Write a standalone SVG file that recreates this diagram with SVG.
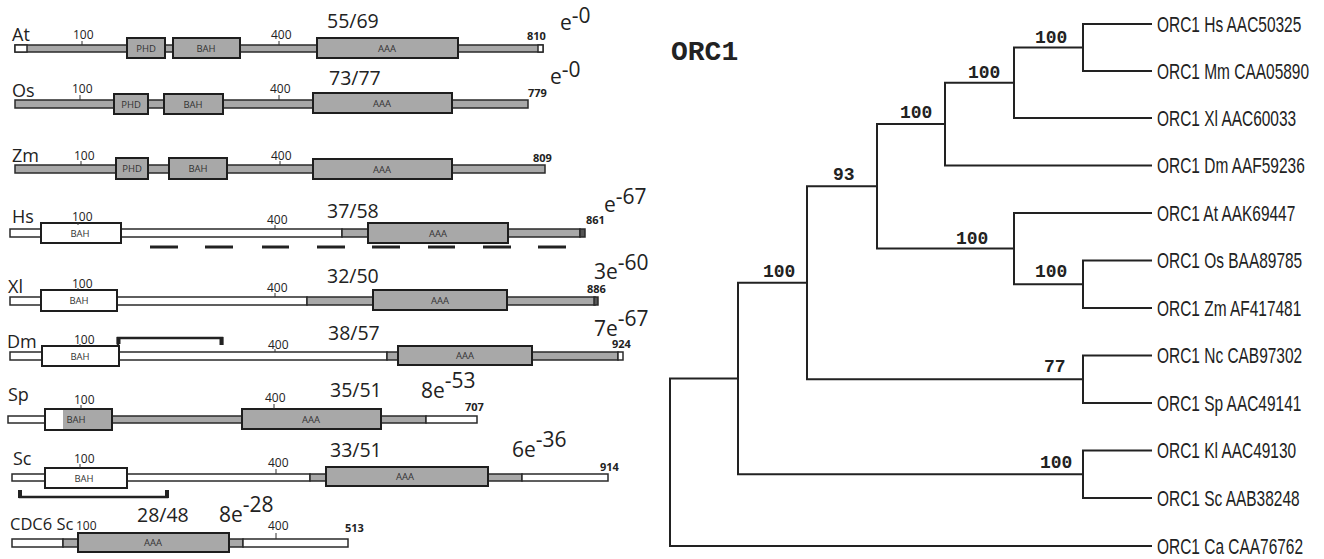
<svg xmlns="http://www.w3.org/2000/svg" width="1324" height="559" viewBox="0 0 1324 559">
<style>
.bg{fill:#fff}
.bw{fill:#fff;stroke:#2a2a2a;stroke-width:1.5}
.bgy{fill:#a8a8a8;stroke:#2a2a2a;stroke-width:1.5}
.bdk{fill:#555;stroke:#2a2a2a;stroke-width:1.5}
.box{fill:#a8a8a8;stroke:#1e1e1e;stroke-width:2}
.boxw{fill:#fff;stroke:#1e1e1e;stroke-width:2}
.tick{stroke:#333;stroke-width:1}
.sp{font-family:"Open Sans","Noto Sans",sans-serif;font-size:18px;fill:#222}
.num{font-family:"Open Sans","Noto Sans",sans-serif;font-size:12px;fill:#222}
.end{font-family:"Open Sans","Noto Sans",sans-serif;font-size:11px;font-weight:bold;fill:#222}
.dom{font-family:"Open Sans","Noto Sans",sans-serif;font-size:9.5px;fill:#333;text-anchor:middle}
.ratio{font-family:"Open Sans","Noto Sans",sans-serif;font-size:19.5px;fill:#222}
.ev{font-family:"Open Sans","Noto Sans",sans-serif;font-size:21px;fill:#222}
.dash{stroke:#222;stroke-width:3}
.brk{stroke:#222;stroke-width:2.5;fill:none}
.tree{stroke:#222;stroke-width:2;fill:none}
.bs{font-family:"Liberation Mono",monospace;font-weight:bold;font-size:18px;fill:#222}
.leaf{font-family:"Liberation Sans",Arial,sans-serif;font-size:22px;fill:#222}
.title{font-family:"Liberation Mono",monospace;font-weight:bold;font-size:28px;fill:#222}
</style>
<rect class="bg" x="0" y="0" width="1324" height="559"/>

<g id="row-At">
<rect class="bgy" x="15" y="45" width="528" height="7"/>
<rect class="bw" x="15" y="45" width="12" height="7"/>
<rect class="bw" x="538" y="45" width="5" height="7"/>
<rect class="box" x="127" y="38" width="38" height="20"/><text class="dom" x="146" y="52">PHD</text>
<rect class="box" x="173" y="38" width="67" height="20"/><text class="dom" x="206" y="52">BAH</text>
<rect class="box" x="317" y="38" width="141" height="20"/><text class="dom" x="387" y="52">AAA</text>
<line class="tick" x1="82" y1="41" x2="82" y2="45"/><line class="tick" x1="279" y1="41" x2="279" y2="45"/>
<text class="num" x="73" y="39">100</text><text class="num" x="271" y="39">400</text>
<text class="sp" x="12" y="41">At</text>
<text class="end" x="527" y="40">810</text>
<text class="ratio" x="327" y="28">55/69</text>
<text class="ev" x="560" y="30">e<tspan dy="-7">-0</tspan></text>
</g>

<g id="row-Os">
<rect class="bgy" x="15" y="100" width="513" height="8"/>
<rect class="box" x="114" y="94" width="34" height="20"/><text class="dom" x="131" y="108">PHD</text>
<rect class="box" x="164" y="94" width="59" height="20"/><text class="dom" x="193" y="108">BAH</text>
<rect class="box" x="313" y="93" width="139" height="20"/><text class="dom" x="382" y="107">AAA</text>
<line class="tick" x1="80" y1="95" x2="80" y2="100"/><line class="tick" x1="279" y1="95" x2="279" y2="100"/>
<text class="num" x="72" y="93">100</text><text class="num" x="270" y="93">400</text>
<text class="sp" x="12" y="97">Os</text>
<text class="end" x="528" y="97">779</text>
<text class="ratio" x="329" y="85">73/77</text>
<text class="ev" x="550" y="84">e<tspan dy="-7">-0</tspan></text>
</g>

<g id="row-Zm">
<rect class="bgy" x="15" y="165" width="530" height="8"/>
<rect class="box" x="116" y="158" width="32" height="21"/><text class="dom" x="132" y="172">PHD</text>
<rect class="box" x="169" y="158" width="58" height="21"/><text class="dom" x="198" y="172">BAH</text>
<rect class="box" x="313" y="159" width="139" height="20"/><text class="dom" x="382" y="173">AAA</text>
<line class="tick" x1="81" y1="161" x2="81" y2="165"/><line class="tick" x1="280" y1="161" x2="280" y2="165"/>
<text class="num" x="74" y="160">100</text><text class="num" x="271" y="160">400</text>
<text class="sp" x="12" y="162">Zm</text>
<text class="end" x="533" y="162">809</text>
</g>

<g id="row-Hs">
<rect class="bw" x="10" y="229" width="332" height="8"/>
<rect class="bgy" x="342" y="229" width="238" height="8"/>
<rect class="bdk" x="580" y="229" width="5" height="8"/>
<rect class="boxw" x="41" y="223" width="80" height="20"/><text class="dom" x="80" y="237">BAH</text>
<rect class="box" x="368" y="223" width="140" height="20"/><text class="dom" x="438" y="237">AAA</text>
<line class="tick" x1="78" y1="222" x2="78" y2="225"/><line class="tick" x1="275" y1="225" x2="275" y2="229"/>
<text class="num" x="72" y="221">100</text><text class="num" x="267" y="224">400</text>
<text class="sp" x="12" y="223">Hs</text>
<text class="end" x="586" y="224">861</text>
<text class="ratio" x="327" y="218">37/58</text>
<text class="ev" x="604" y="212">e<tspan dy="-8">-67</tspan></text>
<g class="dash">
<line x1="150" y1="247" x2="178" y2="247"/><line x1="205" y1="247" x2="233" y2="247"/>
<line x1="262" y1="247" x2="289" y2="247"/><line x1="317" y1="247" x2="345" y2="247"/>
<line x1="372" y1="247" x2="400" y2="247"/><line x1="428" y1="247" x2="455" y2="247"/>
<line x1="483" y1="247" x2="511" y2="247"/><line x1="538" y1="247" x2="566" y2="247"/>
</g>
</g>

<g id="row-Xl">
<rect class="bw" x="10" y="297" width="297" height="8"/>
<rect class="bgy" x="307" y="297" width="288" height="8"/>
<rect class="bdk" x="594" y="297" width="4" height="8"/>
<rect class="boxw" x="41" y="290" width="76" height="21"/><text class="dom" x="79" y="304">BAH</text>
<rect class="box" x="373" y="290" width="134" height="20"/><text class="dom" x="440" y="304">AAA</text>
<line class="tick" x1="78" y1="288" x2="78" y2="290"/><line class="tick" x1="275" y1="293" x2="275" y2="297"/>
<text class="num" x="72" y="288">100</text><text class="num" x="267" y="292">400</text>
<text class="sp" x="8" y="293">Xl</text>
<text class="end" x="587" y="293">886</text>
<text class="ratio" x="327" y="283">32/50</text>
<text class="ev" x="594" y="279">3e<tspan dy="-9">-60</tspan></text>
</g>

<g id="row-Dm">
<rect class="bw" x="10" y="352" width="377" height="8"/>
<rect class="bgy" x="387" y="352" width="231" height="8"/>
<rect class="bw" x="618" y="352" width="5" height="8"/>
<rect class="boxw" x="42" y="346" width="77" height="20"/><text class="dom" x="80" y="360">BAH</text>
<rect class="box" x="398" y="346" width="134" height="19"/><text class="dom" x="465" y="359">AAA</text>
<line class="tick" x1="80" y1="344" x2="80" y2="346"/><line class="tick" x1="275" y1="349" x2="275" y2="352"/>
<text class="num" x="74" y="344">100</text><text class="num" x="268" y="349">400</text>
<text class="sp" x="7" y="348">Dm</text>
<text class="end" x="612" y="348">924</text>
<text class="ratio" x="328" y="340">38/57</text>
<text class="ev" x="594" y="336">7e<tspan dy="-10">-67</tspan></text>
<path class="brk" d="M118,345 V338 H222 V345"/>
<rect x="116.5" y="337" width="4" height="7" fill="#222"/>
<rect x="219.5" y="337" width="4" height="8" fill="#222"/>
</g>

<g id="row-Sp">
<rect class="bw" x="8" y="416" width="37" height="7"/>
<rect class="bgy" x="112" y="416" width="130" height="7"/>
<rect class="bgy" x="381" y="416" width="45" height="7"/>
<rect class="bw" x="426" y="416" width="51" height="7"/>
<rect class="box" x="45" y="409" width="67" height="21"/>
<rect x="46" y="410" width="17" height="19" fill="#fff"/>
<text class="dom" x="76" y="423">BAH</text>
<rect class="box" x="242" y="409" width="139" height="20"/><text class="dom" x="311" y="423">AAA</text>
<line class="tick" x1="81" y1="405" x2="81" y2="409"/><line class="tick" x1="274" y1="404" x2="274" y2="409"/>
<text class="num" x="74" y="404">100</text><text class="num" x="265" y="402">400</text>
<text class="sp" x="8" y="401">Sp</text>
<text class="end" x="465" y="411">707</text>
<text class="ratio" x="330" y="397">35/51</text>
<text class="ev" x="421" y="398">8e<tspan dy="-10">-53</tspan></text>
</g>

<g id="row-Sc">
<rect class="bw" x="12" y="474" width="33" height="7"/>
<rect class="bw" x="127" y="474" width="183" height="7"/>
<rect class="bgy" x="310" y="474" width="16" height="7"/>
<rect class="bgy" x="488" y="474" width="34" height="7"/>
<rect class="bw" x="522" y="474" width="86" height="7"/>
<rect class="boxw" x="45" y="468" width="82" height="20"/><text class="dom" x="84" y="482">BAH</text>
<rect class="box" x="326" y="467" width="162" height="19"/><text class="dom" x="405" y="480">AAA</text>
<line class="tick" x1="80" y1="464" x2="80" y2="468"/><line class="tick" x1="276" y1="469" x2="276" y2="474"/>
<text class="num" x="74" y="463">100</text><text class="num" x="268" y="467">400</text>
<text class="sp" x="13" y="465">Sc</text>
<text class="end" x="600" y="471">914</text>
<text class="ratio" x="330" y="457">33/51</text>
<text class="ev" x="512" y="457">6e<tspan dy="-10">-36</tspan></text>
<path class="brk" d="M20,490 V497 H167 V490"/>
<rect x="18" y="490" width="4" height="8" fill="#222"/>
<rect x="165" y="490" width="4" height="8" fill="#222"/>
</g>

<g id="row-CDC6">
<rect class="bw" x="12" y="539" width="51" height="8"/>
<rect class="bgy" x="63" y="539" width="15" height="8"/>
<rect class="bgy" x="229" y="539" width="14" height="8"/>
<rect class="bw" x="243" y="539" width="105" height="8"/>
<rect class="box" x="78" y="533" width="151" height="19"/><text class="dom" x="153" y="546">AAA</text>
<line class="tick" x1="276" y1="533" x2="276" y2="539"/>
<text class="num" x="76" y="530">100</text><text class="num" x="268" y="530">400</text>
<text class="sp" x="10" y="530" style="font-size:16.5px">CDC6 Sc</text>
<text class="end" x="345" y="532">513</text>
<text class="ratio" x="137" y="522">28/48</text>
<text class="ev" x="219" y="522">8e<tspan dy="-10">-28</tspan></text>
</g>

<g id="tree-title"><text class="title" x="671" y="60">ORC1</text></g>

<g id="connectors" class="tree">
<path d="M1152,24 H1083 V71 H1152"/>
<path d="M1083,47.5 H1014 V118 H1152"/>
<path d="M1014,82.75 H945 V165.5 H1152"/>
<path d="M1152,260.5 H1083 V308 H1152"/>
<path d="M1152,213 H1014 V284.25 H1083"/>
<path d="M945,124 H877 V248.6 H1014"/>
<path d="M1152,355.5 H1083 V403 H1152"/>
<path d="M877,186.3 H807 V379.25 H1083"/>
<path d="M1152,450.5 H1083 V498 H1152"/>
<path d="M807,282.8 H738 V474.25 H1083"/>
<path d="M738,378.5 H670 V546 H1152"/>
</g>

<g id="support">
<text class="bs" x="1035" y="43">100</text>
<text class="bs" x="968" y="78">100</text>
<text class="bs" x="900" y="118">100</text>
<text class="bs" x="833" y="180">93</text>
<text class="bs" x="956" y="244">100</text>
<text class="bs" x="1035" y="277">100</text>
<text class="bs" x="763" y="277">100</text>
<text class="bs" x="1044" y="372">77</text>
<text class="bs" x="1040" y="468">100</text>
</g>

<g id="leaves" transform="translate(1157,0) scale(0.703,1)">
<g id="leaf-Hs"><text class="leaf" x="0" y="32">ORC1 Hs AAC50325</text></g>
<g id="leaf-Mm"><text class="leaf" x="0" y="79">ORC1 Mm CAA05890</text></g>
<g id="leaf-Xl"><text class="leaf" x="0" y="126">ORC1 Xl AAC60033</text></g>
<g id="leaf-Dm"><text class="leaf" x="0" y="173">ORC1 Dm AAF59236</text></g>
<g id="leaf-At"><text class="leaf" x="0" y="221">ORC1 At AAK69447</text></g>
<g id="leaf-Os"><text class="leaf" x="0" y="268">ORC1 Os BAA89785</text></g>
<g id="leaf-Zm"><text class="leaf" x="0" y="316">ORC1 Zm AF417481</text></g>
<g id="leaf-Nc"><text class="leaf" x="0" y="363">ORC1 Nc CAB97302</text></g>
<g id="leaf-Sp"><text class="leaf" x="0" y="411">ORC1 Sp AAC49141</text></g>
<g id="leaf-Kl"><text class="leaf" x="0" y="458">ORC1 Kl AAC49130</text></g>
<g id="leaf-Sc"><text class="leaf" x="0" y="506">ORC1 Sc AAB38248</text></g>
<g id="leaf-Ca"><text class="leaf" x="0" y="554">ORC1 Ca CAA76762</text></g>
</g>
</svg>
